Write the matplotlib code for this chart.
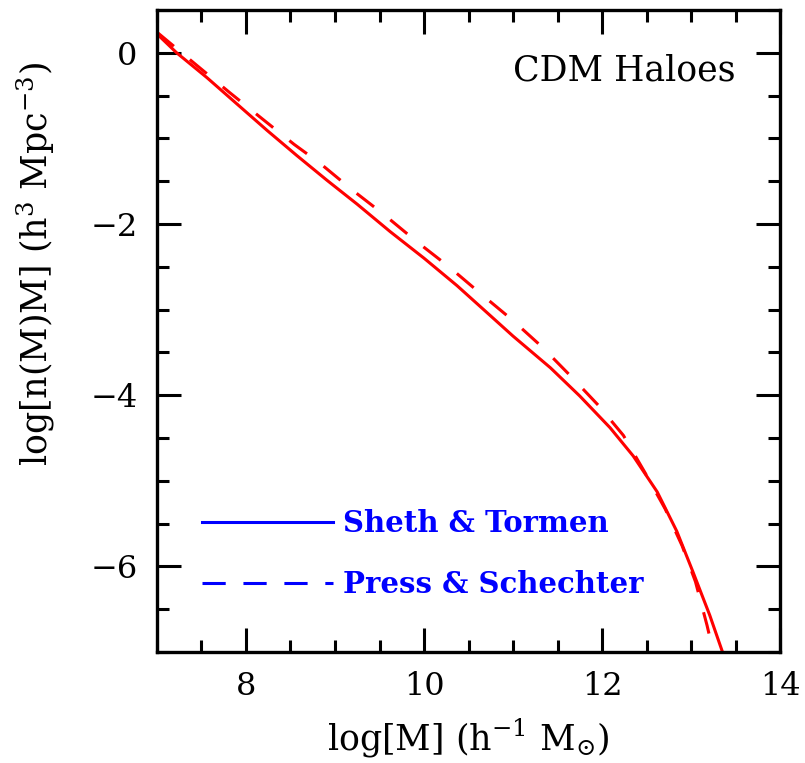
import numpy as np
import matplotlib
matplotlib.use("Agg")
import matplotlib.pyplot as plt
from matplotlib.lines import Line2D
from matplotlib.ticker import MultipleLocator

# Sheth & Tormen mass function (solid)
logm_st = [7.0, 7.22, 7.56, 7.90, 8.24, 8.57, 8.91, 9.25, 9.62, 10.0, 10.37,
           10.68, 11.0, 11.42, 11.75, 12.09, 12.35, 12.62, 12.84, 13.02, 13.21, 13.35]
logn_st = [0.22, 0.0, -0.29, -0.60, -0.91, -1.20, -1.49, -1.77, -2.09, -2.40, -2.72,
           -3.01, -3.31, -3.68, -4.01, -4.38, -4.71, -5.13, -5.59, -6.06, -6.57, -6.99]

# Press & Schechter mass function (dashed)
logm_ps = [7.0, 7.45, 7.81, 8.18, 8.54, 8.83, 9.19, 9.55, 9.91, 10.28, 10.62,
           10.99, 11.33, 11.66, 11.96, 12.24, 12.48, 12.71, 12.90, 13.05, 13.18, 13.25]
logn_ps = [0.24, -0.15, -0.46, -0.77, -1.07, -1.29, -1.60, -1.89, -2.20, -2.50, -2.80,
           -3.12, -3.44, -3.79, -4.12, -4.47, -4.90, -5.33, -5.76, -6.18, -6.69, -7.0]

labels = ["Sheth & Tormen", "Press & Schechter"]

plt.rcParams['font.family'] = ['DejaVu Serif']
plt.rcParams['mathtext.fontset'] = 'dejavuserif'

fig = plt.figure(figsize=(8.05, 7.63), dpi=100)
ax = fig.add_axes([0.195, 0.1455, 0.774, 0.8415])

lw = 2.2
ax.plot(logm_st, logn_st, color='red', lw=lw, solid_joinstyle='round')
ax.plot(logm_ps, logn_ps, color='red', lw=lw, linestyle=(0, (7.2, 6.8)),
        dash_capstyle='butt')

ax.set_xlim(7, 14)
ax.set_ylim(-7, 0.5)

ax.xaxis.set_major_locator(MultipleLocator(2))
ax.xaxis.set_minor_locator(MultipleLocator(0.5))
ax.yaxis.set_major_locator(MultipleLocator(2))
ax.yaxis.set_minor_locator(MultipleLocator(0.5))

ax.tick_params(which='both', direction='in', top=True, right=True, width=2.2,
               labelsize=23, pad=14)
ax.tick_params(which='major', length=17)
ax.tick_params(which='minor', length=8.6)
for s in ax.spines.values():
    s.set_linewidth(2.4)

ax.set_xlabel(r"log[M] (h$^{-1}$ M$_{\odot}$)", fontsize=25, labelpad=10)
ax.set_ylabel(r"log[n(M)M] (h$^{3}$ Mpc$^{-3}$)", fontsize=25)
ax.yaxis.set_label_coords(-0.16, 0.605)

ax.text(0.928, 0.906, "CDM Haloes", transform=ax.transAxes, ha='right',
        va='center', fontsize=25)

handles = [Line2D([], [], color='blue', lw=lw),
           Line2D([], [], color='blue', lw=lw, linestyle=(0, (7.6, 5.8)))]
leg = ax.legend(handles, labels, loc='lower left', bbox_to_anchor=(0.072, 0.082),
                frameon=False, handlelength=4.5, handletextpad=0.33,
                labelspacing=1.1, borderpad=0, borderaxespad=0,
                prop={'weight': 'bold', 'size': 21}, labelcolor='blue')

fig.savefig("out.png", dpi=100)
